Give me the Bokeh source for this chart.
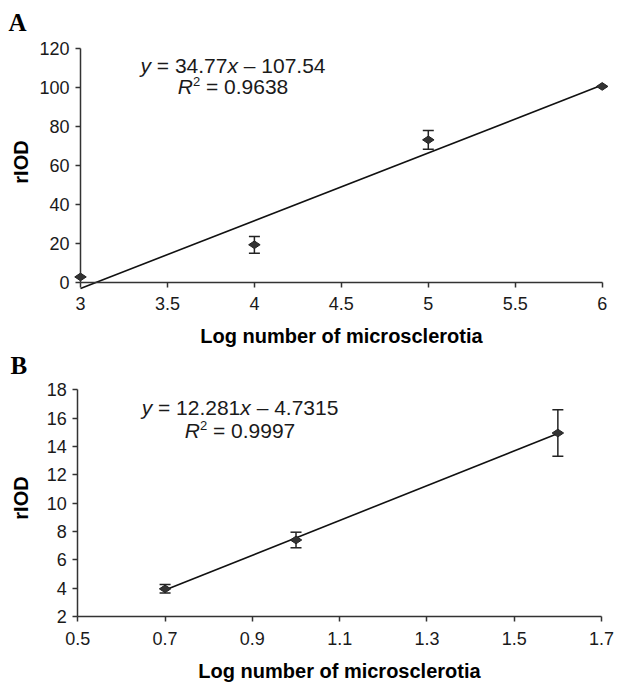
import math
from bokeh.plotting import figure
from bokeh.models import Label, Whisker, TeeHead, ColumnDataSource, FixedTicker
from bokeh.layouts import column
from bokeh.embed import file_html
from bokeh.resources import INLINE

# ---------------- Panel A data ----------------
a_x = [3, 4, 5, 6]
a_y = [2.7, 19.2, 73.0, 100.4]
a_err = [0, 4.3, 4.8, 0]
a_slope = 34.77
a_intercept = -107.54
a_slope_txt = "34.77"
a_icpt_txt = "107.54"
a_r2_txt = "0.9638"
a_xticks = [3, 3.5, 4, 4.5, 5, 5.5, 6]
a_xtick_labels = ["3", "3.5", "4", "4.5", "5", "5.5", "6"]
a_yticks = [0, 20, 40, 60, 80, 100, 120]
a_ytick_labels = ["0", "20", "40", "60", "80", "100", "120"]

# ---------------- Panel B data ----------------
b_x = [0.7, 1.0, 1.6]
b_y = [3.95, 7.4, 14.95]
b_err = [0.3, 0.55, 1.64]
b_slope = 12.281
b_intercept = -4.7315
b_slope_txt = "12.281"
b_icpt_txt = "4.7315"
b_r2_txt = "0.9997"
b_xticks = [0.5, 0.7, 0.9, 1.1, 1.3, 1.5, 1.7]
b_xtick_labels = ["0.5", "0.7", "0.9", "1.1", "1.3", "1.5", "1.7"]
b_yticks = [2, 4, 6, 8, 10, 12, 14, 16, 18]
b_ytick_labels = ["2", "4", "6", "8", "10", "12", "14", "16", "18"]

x_title = "Log number of microsclerotia"
y_title = "rIOD"

FONT = "Liberation Sans"
AXIS_COLOR = "#333333"
TEXT_COLOR = "#1a1a1a"

# Arial-compatible advance widths (per em)
W = {" ": 0.278, "=": 0.584, ".": 0.278, "\u2013": 0.556, "y": 0.5, "x": 0.5, "R": 0.722}
for d in "0123456789":
    W[d] = 0.556


def tw(s, fs):
    return sum(W.get(c, 0.556) for c in s) * fs


class Mapper:
    """pixel -> data conversion for a figure whose frame is the whole canvas"""
    def __init__(self, xv0, xp0, xs, yv0, yp0, ys):
        self.xv0, self.xp0, self.xs = xv0, xp0, xs
        self.yv0, self.yp0, self.ys = yv0, yp0, ys

    def x(self, px):
        return self.xv0 + (px - self.xp0) / self.xs

    def y(self, py):
        return self.yv0 + (self.yp0 - py) / self.ys


def add_text(p, m, px, py, text, fs, style="normal", xoff=0, align="left",
             baseline="alphabetic", angle=0, font=FONT, color=TEXT_COLOR):
    # empirical correction so the alphabetic baseline lands on py
    if baseline == "alphabetic":
        py = py - 0.4 * fs
    p.add_layout(Label(x=m.x(px), y=m.y(py), text=text, x_offset=xoff, text_font=font,
                       text_font_size=f"{fs}px", text_font_style=style,
                       text_align=align, text_baseline=baseline, angle=angle,
                       text_color=color))


def add_equation(p, m, cx, b1, b2, bsup, slope_txt, icpt_txt, r2_txt, fs=21, fs_sup=13):
    sp = tw(" ", fs)
    parts = [("y", "italic", 0), ("= " + slope_txt, "normal", sp), ("x", "italic", 0),
             ("\u2013 " + icpt_txt, "normal", sp)]
    total = sum(tw(t, fs) + s for t, _, s in parts)
    off = -total / 2
    for t, st, s in parts:
        off += s
        add_text(p, m, cx, b1, t, fs, st, xoff=off)
        off += tw(t, fs)
    r_txt = "= " + r2_txt
    total2 = tw("R", fs) + 0.556 * fs_sup + sp + tw(r_txt, fs)
    off = -total2 / 2
    add_text(p, m, cx, b2, "R", fs, "italic", xoff=off)
    off += tw("R", fs)
    add_text(p, m, cx, bsup, "2", fs_sup, "normal", xoff=off)
    off += 0.556 * fs_sup + sp
    add_text(p, m, cx, b2, r_txt, fs, "normal", xoff=off)


def make_panel(xs, ys, errs, slope, icpt, xticks, xlabels, yticks, ylabels,
               m, fw, fh, geo):
    x_range = (m.x(0), m.x(fw))
    y_range = (m.y(fh), m.y(0))
    p = figure(x_range=x_range, y_range=y_range, frame_width=fw, frame_height=fh,
               min_border=0, min_border_left=0, min_border_right=0, min_border_top=0,
               min_border_bottom=0, toolbar_location=None, output_backend="svg",
               background_fill_color="white", border_fill_color="white")
    p.outline_line_color = None
    p.grid.visible = False

    for ax in (p.xaxis[0], p.yaxis[0]):
        ax.axis_line_color = AXIS_COLOR
        ax.axis_line_width = 1.5
        ax.major_tick_line_color = AXIS_COLOR
        ax.major_tick_line_width = 1.5
        ax.major_tick_out = 5
        ax.major_tick_in = 0
        ax.minor_tick_line_color = None
        ax.major_label_text_font = FONT
        ax.major_label_text_font_size = "18px"
        ax.major_label_text_color = TEXT_COLOR

    xa = p.xaxis[0]
    xa.ticker = FixedTicker(ticks=xticks)
    xa.major_label_overrides = {float(t): l for t, l in zip(xticks, xlabels)}
    xa.fixed_location = yticks[0]
    xa.bounds = (xticks[0], xticks[-1])
    xa.major_label_standoff = 10

    ya = p.yaxis[0]
    ya.ticker = FixedTicker(ticks=yticks)
    ya.major_label_overrides = {float(t): l for t, l in zip(yticks, ylabels)}
    ya.fixed_location = xticks[0]
    ya.bounds = (yticks[0], yticks[-1])
    ya.major_label_standoff = 6

    # trendline across the data range
    lx = [xs[0], xs[-1]]
    ly = [slope * v + icpt for v in lx]
    p.line(lx, ly, line_color="#111111", line_width=1.6)

    p.scatter(xs, ys, marker="diamond", size=11.5, angle=math.pi / 2,
              fill_color="#333333", line_color="#222222", line_width=1)

    ex = [x for x, e in zip(xs, errs) if e > 0]
    eu = [y + e for y, e in zip(ys, errs) if e > 0]
    el = [y - e for y, e in zip(ys, errs) if e > 0]
    src = ColumnDataSource(data=dict(x=ex, upper=eu, lower=el))
    p.add_layout(Whisker(base="x", upper="upper", lower="lower", source=src,
                         dimension="height", line_color="#222222", line_width=1.5,
                         upper_head=TeeHead(size=11, line_color="#222222", line_width=1.5),
                         lower_head=TeeHead(size=11, line_color="#222222", line_width=1.5)))

    # panel letter, axis titles, equation
    add_text(p, m, geo["letter_px"][0], geo["letter_px"][1], geo["letter"], 25, "bold",
             font="Liberation Serif", color="#000000")
    add_text(p, m, geo["xt_px"][0], geo["xt_px"][1], x_title, 20, "bold", align="center",
             color="#000000")
    add_text(p, m, geo["yt_px"][0], geo["yt_px"][1], y_title, 20, "bold", align="center",
             baseline="middle", angle=math.pi / 2, color="#000000")
    add_equation(p, m, geo["eq_cx"], geo["eq_b"][0], geo["eq_b"][1], geo["eq_b"][2],
                 geo["slope_txt"], geo["icpt_txt"], geo["r2_txt"])
    return p


mA = Mapper(3, 80, 173.9, 0, 281.7, 1.95)
pA = make_panel(a_x, a_y, a_err, a_slope, a_intercept, a_xticks, a_xtick_labels,
                a_yticks, a_ytick_labels, mA, 617, 350,
                geo=dict(letter="A", letter_px=(8, 31.7), xt_px=(341, 343),
                         yt_px=(20, 161.5), eq_cx=232.5, eq_b=(73, 94, 86.3),
                         slope_txt=a_slope_txt, icpt_txt=a_icpt_txt, r2_txt=a_r2_txt))

mB = Mapper(0.5, 77.3, 436.42, 2, 266, 14.169)
pB = make_panel(b_x, b_y, b_err, b_slope, b_intercept, b_xticks, b_xtick_labels,
                b_yticks, b_ytick_labels, mB, 617, 333,
                geo=dict(letter="B", letter_px=(10, 25), xt_px=(339, 328),
                         yt_px=(20, 147.5), eq_cx=239.5, eq_b=(65, 88, 80.3),
                         slope_txt=b_slope_txt, icpt_txt=b_icpt_txt, r2_txt=b_r2_txt))

layout = column(pA, pB)
open("out.html", "w").write(file_html(layout, INLINE))
